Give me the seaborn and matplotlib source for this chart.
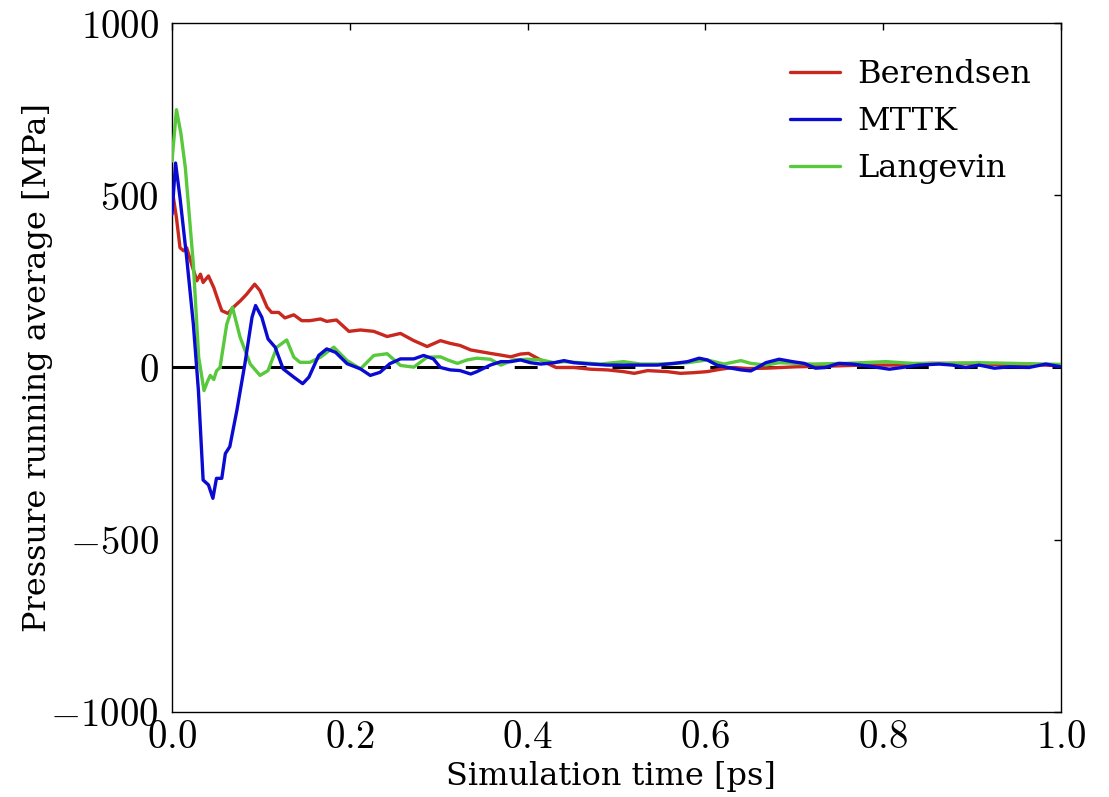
import matplotlib
matplotlib.use("Agg")
import matplotlib.pyplot as plt
import seaborn as sns
import pandas as pd
from matplotlib.ticker import FixedLocator, FixedFormatter

# ---------------- data ----------------
series_names = ["Berendsen", "MTTK", "Langevin"]

t_berendsen = [0.000, 0.005, 0.009, 0.013, 0.0165, 0.022, 0.028, 0.032, 0.035, 0.041,
               0.047, 0.052, 0.056, 0.063, 0.069, 0.077, 0.084, 0.093, 0.099, 0.107,
               0.112, 0.120, 0.127, 0.137, 0.146, 0.155, 0.167, 0.174, 0.185, 0.199,
               0.212, 0.227, 0.242, 0.257, 0.272, 0.287, 0.302, 0.313, 0.324, 0.336,
               0.347, 0.358, 0.370, 0.381, 0.392, 0.401, 0.411, 0.422, 0.432, 0.452,
               0.471, 0.490, 0.508, 0.520, 0.535, 0.557, 0.572, 0.587, 0.602, 0.617,
               0.632, 0.647, 0.668, 0.702, 0.739, 0.777, 0.814, 0.852, 0.889, 0.927,
               0.964, 1.000]
p_berendsen = [520, 435, 348, 339, 348, 300, 252, 271, 247, 266,
               232, 194, 165, 157, 175, 194, 213, 242, 223, 175,
               160, 160, 144, 153, 136, 136, 141, 134, 138, 105,
               109, 105, 90, 99, 78, 61, 78, 70, 64, 51,
               46, 41, 36, 31, 39, 41, 27, 12, 0, 0,
               -5, -7, -12, -17, -9, -12, -17, -15, -12, -5,
               0, -3, -2, 2, 4, 7, 7, 12, 12, 9,
               9, 5]

t_mttk = [0.000, 0.004, 0.009, 0.0165, 0.024, 0.0297, 0.035, 0.041, 0.046, 0.050,
          0.056, 0.060, 0.065, 0.073, 0.082, 0.090, 0.094, 0.101, 0.108, 0.116,
          0.125, 0.137, 0.147, 0.154, 0.165, 0.174, 0.184, 0.197, 0.212, 0.223,
          0.234, 0.245, 0.257, 0.272, 0.283, 0.294, 0.302, 0.313, 0.324, 0.336,
          0.343, 0.358, 0.370, 0.381, 0.392, 0.403, 0.415, 0.430, 0.441, 0.452,
          0.471, 0.490, 0.508, 0.527, 0.546, 0.565, 0.580, 0.593, 0.602, 0.613,
          0.625, 0.640, 0.651, 0.657, 0.668, 0.683, 0.698, 0.711, 0.724, 0.735,
          0.750, 0.765, 0.784, 0.807, 0.821, 0.840, 0.863, 0.878, 0.893, 0.908,
          0.925, 0.942, 0.964, 0.983, 1.000]
p_mttk = [445, 594, 493, 319, 126, -67, -327, -341, -380, -322,
          -322, -250, -230, -124, 11, 146, 180, 146, 83, 59,
          -4, -28, -47, -28, 35, 54, 44, 11, -4, -23,
          -14, 11, 25, 25, 35, 25, 0, -7, -9, -19,
          -12, 7, 17, 17, 22, 14, 10, 14, 20, 14,
          10, 7, 7, 7, 7, 12, 17, 27, 22, 7,
          0, -7, -10, -2, 14, 24, 17, 12, -2, 0,
          12, 10, 4, -5, 0, 7, 10, 7, 0, 7,
          -2, 2, 0, 10, 2]

t_langevin = [0.000, 0.005, 0.010, 0.015, 0.024, 0.030, 0.036, 0.040, 0.043, 0.047,
              0.050, 0.054, 0.0616, 0.068, 0.0766, 0.088, 0.099, 0.108, 0.118, 0.129,
              0.137, 0.144, 0.155, 0.167, 0.182, 0.197, 0.212, 0.227, 0.242, 0.257,
              0.272, 0.287, 0.302, 0.310, 0.321, 0.332, 0.343, 0.358, 0.370, 0.384,
              0.400, 0.415, 0.430, 0.441, 0.460, 0.482, 0.508, 0.527, 0.546, 0.565,
              0.580, 0.602, 0.621, 0.640, 0.651, 0.668, 0.683, 0.720, 0.758, 0.803,
              0.833, 0.870, 0.908, 0.946, 0.983, 1.000]
p_langevin = [600, 749, 680, 580, 300, 30, -67, -40, -23, -35,
              -10, 0, 126, 175, 88, 10, -23, -9, 59, 80,
              30, 15, 15, 30, 59, 20, -4, 35, 40, 6,
              1, 30, 31, 22, 12, 22, 27, 24, 7, 22,
              24, 22, 14, 17, 14, 10, 17, 10, 10, 12,
              14, 22, 10, 20, 12, 7, 14, 10, 12, 17,
              12, 12, 14, 12, 10, 9]

x_ticks = [0.0, 0.2, 0.4, 0.6, 0.8, 1.0]
x_tick_labels = ["0.0", "0.2", "0.4", "0.6", "0.8", "1.0"]
y_ticks = [-1000, -500, 0, 500, 1000]
y_tick_labels = ["\u22121000", "\u2212500", "0", "500", "1000"]

x_label = "Simulation time [ps]"
y_label = "Pressure running average [MPa]"

colors = {"Berendsen": "#c8281e", "MTTK": "#0a0ad2", "Langevin": "#58c83c"}

# ---------------- style ----------------
sns.set_style("white")
plt.rcParams["font.family"] = ["DejaVu Serif"]
plt.rcParams["mathtext.fontset"] = "cm"
plt.rcParams["text.color"] = "black"
plt.rcParams["axes.labelcolor"] = "black"

fig = plt.figure(figsize=(11.09, 7.97), dpi=100)
ax = fig.add_axes([0.1551, 0.1070, 0.9567 - 0.1551, 0.9708 - 0.1070])

# zero reference line
ax.axhline(0, color="black", lw=2.2, dashes=(7.5, 8.5), zorder=1.5)

frames = {
    "Berendsen": pd.DataFrame({"t": t_berendsen, "p": p_berendsen}),
    "MTTK": pd.DataFrame({"t": t_mttk, "p": p_mttk}),
    "Langevin": pd.DataFrame({"t": t_langevin, "p": p_langevin}),
}
draw_order = ["Berendsen", "Langevin", "MTTK"]
for i, name in enumerate(draw_order):
    sns.lineplot(data=frames[name], x="t", y="p", ax=ax, color=colors[name],
                 lw=2.4, label=name, zorder=2 + i, estimator=None, sort=False)

ax.set_xlim(0, 1.0)
ax.set_ylim(-1000, 1000)

ax.xaxis.set_major_locator(FixedLocator(x_ticks))
ax.xaxis.set_major_formatter(FixedFormatter(["$" + s + "$" for s in x_tick_labels]))
ax.yaxis.set_major_locator(FixedLocator(y_ticks))
ax.yaxis.set_major_formatter(FixedFormatter(["$" + s.replace("\u2212", "-") + "$" for s in y_tick_labels]))

ax.tick_params(axis="both", which="major", direction="in", length=5, width=1,
               top=True, right=True, labelsize=28, colors="black")
ax.tick_params(axis="y", pad=9.5)
ax.tick_params(axis="x", pad=5.0)
for sp in ax.spines.values():
    sp.set_visible(True)
    sp.set_color("black")
    sp.set_linewidth(1.0)

ax.set_xlabel(x_label, fontsize=23)
ax.set_ylabel(y_label, fontsize=23)
ax.xaxis.set_label_coords(0.494, -0.094, transform=ax.transAxes)
ax.yaxis.set_label_coords(-0.151, 0.5, transform=ax.transAxes)
ax.xaxis.label.set_va("center")
ax.yaxis.label.set_va("center")

handles, labels = ax.get_legend_handles_labels()
hmap = dict(zip(labels, handles))
ax.legend([hmap[n] for n in series_names], series_names, loc="upper right",
          bbox_to_anchor=(0.995, 0.985), frameon=False, fontsize=23,
          handlelength=1.55, handletextpad=0.55, labelspacing=0.5,
          borderaxespad=0.4)

fig.savefig("out.png", dpi=100)
